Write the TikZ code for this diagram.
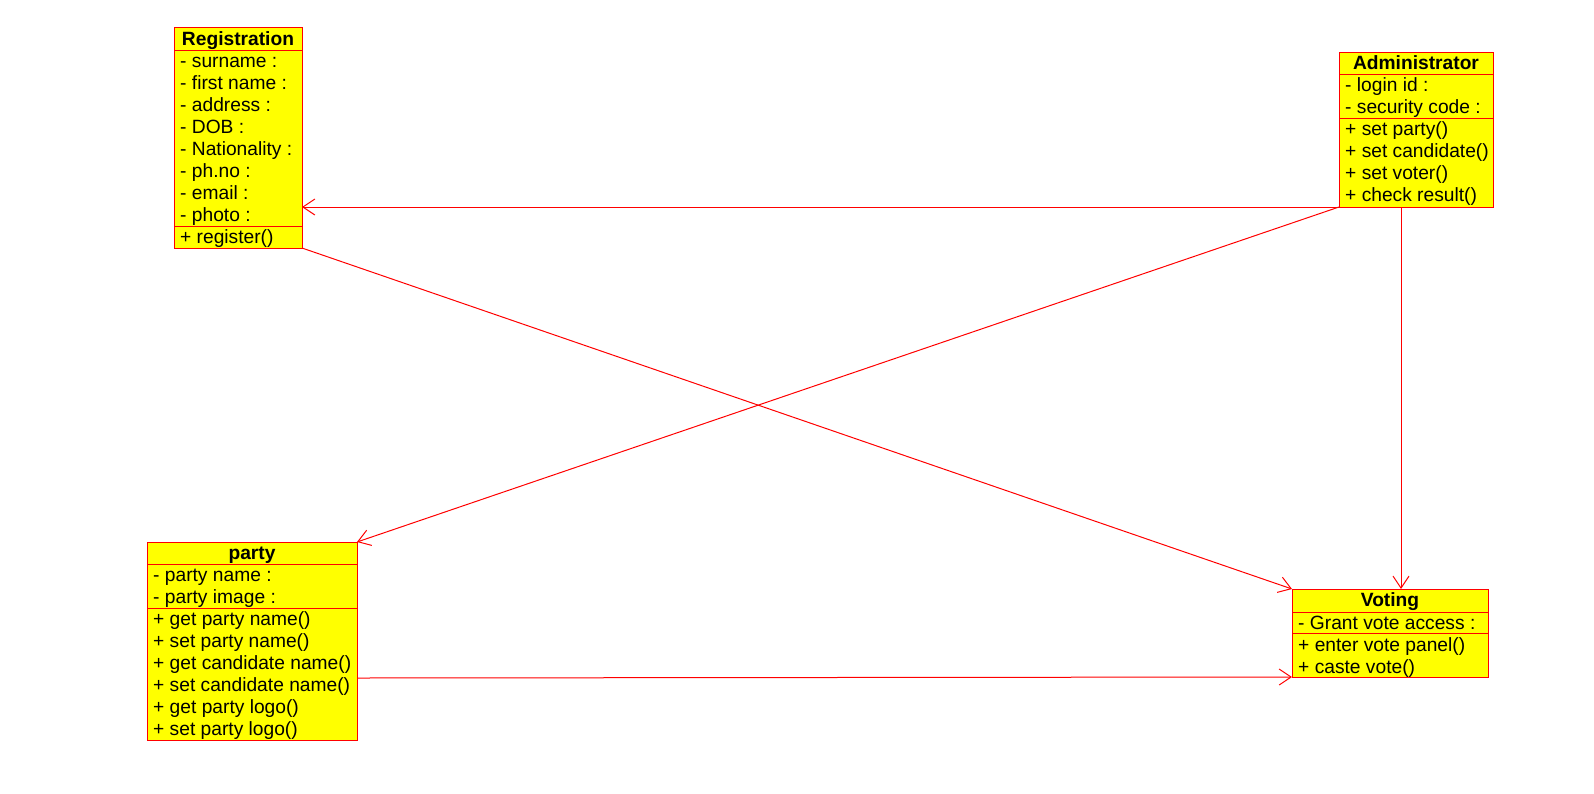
\documentclass[tikz,border=0pt]{standalone}
\usepackage{fontspec}
\setmainfont{Liberation Sans}
\usetikzlibrary{arrows.meta}
\definecolor{umlred}{RGB}{255,0,0}
\definecolor{umlyellow}{RGB}{255,255,0}
\tikzset{
 classbox/.style={draw=umlred, fill=umlyellow, line width=1pt, inner sep=0pt, outer sep=0pt, anchor=north west},
 sepline/.style={draw=umlred, line width=1pt},
 rowtext/.style={anchor=base west, inner sep=0pt, font=\fontsize{19.2}{22}\selectfont},
 headtext/.style={anchor=base, inner sep=0pt, font=\fontsize{19.2}{22}\selectfont\bfseries},
 assoc/.style={draw=umlred, line width=1pt, -{Straight Barb[length=12pt,width=16pt,line width=1pt]}},
}
\begin{document}
\begin{tikzpicture}[x=1pt,y=-1pt]
\useasboundingbox (0,0) rectangle (1594,793);
\fill[white] (0,0) rectangle (1594,793);

% Registration
\node[classbox, minimum width=128pt, minimum height=221pt] (reg) at (174,27) {};
\draw[sepline] (174,50) -- (302,50);
\draw[sepline] (174,226) -- (302,226);
\node[headtext] (reg-h) at (238,45) {Registration};
\foreach \t [count=\i] in {{- surname :},{- first name :},{- address :},{- DOB :},{- Nationality :},{- ph.no :},{- email :},{- photo :}}
  \node[rowtext] (reg-a\i) at (180,{50+22*\i-4.5}) {\t};
\node[rowtext] (reg-m1) at (180,243.5) {+ register()};

% Administrator
\node[classbox, minimum width=154pt, minimum height=155pt] (adm) at (1339,52) {};
\draw[sepline] (1339,74) -- (1493,74);
\draw[sepline] (1339,118) -- (1493,118);
\node[headtext] (adm-h) at (1416,69) {Administrator};
\foreach \t [count=\i] in {{- login id :},{- security code :}}
  \node[rowtext] (adm-a\i) at (1345,{74+22*\i-4.5}) {\t};
\foreach \t [count=\i] in {{+ set party()},{+ set candidate()},{+ set voter()},{+ check result()}}
  \node[rowtext] (adm-m\i) at (1345,{118+22*\i-4.5}) {\t};

% party
\node[classbox, minimum width=210pt, minimum height=198pt] (party) at (147,542) {};
\draw[sepline] (147,564) -- (357,564);
\draw[sepline] (147,608) -- (357,608);
\node[headtext] (party-h) at (252,559.5) {party};
\foreach \t [count=\i] in {{- party name :},{- party image :}}
  \node[rowtext] (party-a\i) at (153,{564+22*\i-4.5}) {\t};
\foreach \t [count=\i] in {{+ get party name()},{+ set party name()},{+ get candidate name()},{+ set candidate name()},{+ get party logo()},{+ set party logo()}}
  \node[rowtext] (party-m\i) at (153,{608+22*\i-4.5}) {\t};

% Voting
\node[classbox, minimum width=196pt, minimum height=88pt] (vote) at (1292,589) {};
\draw[sepline] (1292,612) -- (1488,612);
\draw[sepline] (1292,633) -- (1488,633);
\node[headtext] (vote-h) at (1390,606) {Voting};
\node[rowtext] (vote-a1) at (1298,629.5) {- Grant vote access :};
\node[rowtext] (vote-m1) at (1298,651.5) {+ enter vote panel()};
\node[rowtext] (vote-m2) at (1298,673) {+ caste vote()};

% connectors
\draw[assoc] (adm.south west) -- (adm.south west -| reg.east);
\draw[assoc] (adm.south west) -- (party.north east);
\draw[assoc] ([xshift=-15pt]adm.south) -- ([xshift=-15pt]adm.south |- vote.north);
\draw[assoc] (reg.south east) -- (vote.north west);
\draw[assoc] ([yshift=-37pt]party.east) -- (vote.south west);
\end{tikzpicture}
\end{document}
